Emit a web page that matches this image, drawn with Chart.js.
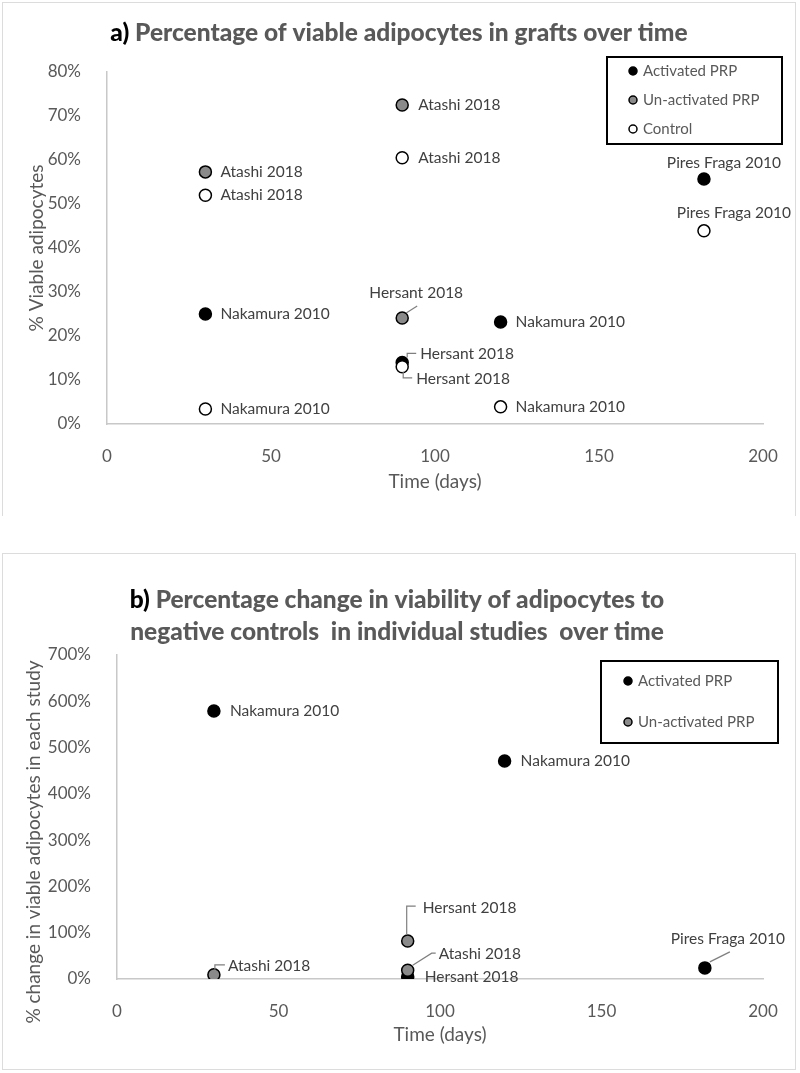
<!DOCTYPE html>
<html>
<head>
<meta charset="utf-8">
<script src="https://cdn.jsdelivr.net/npm/chart.js@4.4.0/dist/chart.umd.min.js"></script>
<style>
body { margin: 0; background: #fff; width: 800px; height: 1073px; position: relative; overflow: hidden; }
.panel { position: absolute; left: 2px; width: 792px; border: 1px solid #dcdcdc; background: #fff; }
#pa { top: 2px; height: 513px; border-bottom: none; }
#pb { top: 553px; height: 515px; }
canvas { display: block; }
</style>
</head>
<body>
<div class="panel" id="pa"><canvas id="chartA" width="792" height="513"></canvas></div>
<div class="panel" id="pb"><canvas id="chartB" width="792" height="515"></canvas></div>
<script>
// ---- data, panel a (% viable adipocytes) ----
const actDaysA = [30, 90, 120, 182];
const actPctA = [25, 14, 23.2, 55.7];
const actStudyA = ["Nakamura 2010", "Hersant 2018", "Nakamura 2010", "Pires Fraga 2010"];
const unactDaysA = [30, 90, 90];
const unactPctA = [57.3, 72.5, 24.1];
const unactStudyA = ["Atashi 2018", "Atashi 2018", "Hersant 2018"];
const ctrlDaysA = [30, 30, 90, 90, 120, 182];
const ctrlPctA = [52, 3.4, 60.5, 13, 3.9, 43.9];
const ctrlStudyA = ["Atashi 2018", "Nakamura 2010", "Atashi 2018", "Hersant 2018", "Nakamura 2010", "Pires Fraga 2010"];

// ---- data, panel b (% change vs negative control) ----
const actDaysB = [30, 90, 120, 182];
const actPctB = [579, 5, 471, 24];
const actStudyB = ["Nakamura 2010", "Hersant 2018", "Nakamura 2010", "Pires Fraga 2010"];
const unactDaysB = [30, 90, 90];
const unactPctB = [9, 82, 19];
const unactStudyB = ["Atashi 2018", "Hersant 2018", "Atashi 2018"];

// ---- axes ----
const xTicks = [0, 50, 100, 150, 200];
const yTicksA = [0, 10, 20, 30, 40, 50, 60, 70, 80];
const yTicksB = [0, 100, 200, 300, 400, 500, 600, 700];
const seriesNames = ["Activated PRP", "Un-activated PRP", "Control"];

const FONT = "Lato";
const TICK_COLOR = "#595959";
const LABEL_COLOR = "#404040";
const AXIS_COLOR = "#c8c8c8";
const FILLS = ["#000000", "#8a8a8a", "#ffffff"];

// label placement relative to the point (pixels); R = plain label to the right
const R = { dx: 15, dy: 0, align: "left" };
const R16 = { dx: 16, dy: 0, align: "left" };
const placeActA = [R, { dx: 18, dy: -8, align: "left", path: [[5, -5], [5, -9], [14, -9]] }, R, { dx: 20, dy: -16, align: "center" }];
const placeUnactA = [R, R16, { dx: 14, dy: -25, align: "center", path: [[4, -5], [15, -12]] }];
const placeCtrlA = [R, R, R16, { dx: 14, dy: 12, align: "left", path: [[1, 5], [1, 11], [10, 11]] }, R, { dx: 30, dy: -18, align: "center" }];
const placeActB = [R16, { dx: 17, dy: 0, align: "left" }, R16, { dx: 23, dy: -29, align: "center", path: [[5, -6], [25, -16]] }];
const placeUnactB = [{ dx: 14, dy: -9, align: "left", path: [[1, -5], [1, -10], [11, -10]] },
  { dx: 15, dy: -33, align: "left", path: [[-1, -6], [-1, -35], [8, -35]] },
  { dx: 31, dy: -16, align: "left", path: [[5, -5], [24, -17], [28, -17]] }];

function pts(xs, ys) { return xs.map((x, i) => ({ x, y: ys[i] })); }

function dataset(idx, xs, ys, names, place) {
  return {
    label: seriesNames[idx],
    data: pts(xs, ys),
    studies: names,
    place: place,
    order: 2 - idx,
    backgroundColor: FILLS[idx],
    borderColor: "#000",
    borderWidth: 1.5,
    pointRadius: 6,
    pointHoverRadius: 6
  };
}

// study names next to the markers, with small leader lines
const studyLabels = {
  id: "studyLabels",
  afterDatasetsDraw(chart) {
    const ctx = chart.ctx;
    ctx.save();
    ctx.font = "15.5px " + FONT;
    ctx.textBaseline = "middle";
    chart.data.datasets.forEach((ds, di) => {
      chart.getDatasetMeta(di).data.forEach((pt, i) => {
        const p = ds.place[i];
        if (p.path) {
          ctx.strokeStyle = "#7f7f7f";
          ctx.lineWidth = 1.2;
          ctx.beginPath();
          p.path.forEach(([dx, dy], k) => {
            if (k === 0) ctx.moveTo(pt.x + dx, pt.y + dy); else ctx.lineTo(pt.x + dx, pt.y + dy);
          });
          ctx.stroke();
        }
        ctx.fillStyle = LABEL_COLOR;
        ctx.textAlign = p.align;
        ctx.fillText(ds.studies[i], pt.x + p.dx, pt.y + p.dy);
      });
    });
    ctx.restore();
  }
};

// boxed legend, titles and axis titles
const decor = {
  id: "decor",
  afterDraw(chart, args, o) {
    const ctx = chart.ctx;
    ctx.save();
    // legend box
    const L = o.legend;
    ctx.strokeStyle = "#000";
    ctx.lineWidth = 2;
    ctx.strokeRect(L.x, L.y, L.w, L.h);
    ctx.font = "15px " + FONT;
    ctx.textBaseline = "middle";
    ctx.textAlign = "left";
    chart.data.datasets.forEach((ds, i) => {
      const y = L.rows[i];
      ctx.beginPath();
      ctx.arc(L.mx, y, 4, 0, Math.PI * 2);
      ctx.fillStyle = ds.backgroundColor;
      ctx.fill();
      ctx.lineWidth = 1.5;
      ctx.strokeStyle = "#000";
      ctx.stroke();
      ctx.fillStyle = TICK_COLOR;
      ctx.fillText(ds.label, L.tx, y);
    });
    // main title: bold prefix in black, rest grey
    ctx.font = "900 24.5px " + FONT;
    o.title.lines.forEach((line, k) => {
      const pre = k === 0 ? o.title.prefix : "";
      const w1 = ctx.measureText(pre).width;
      const w2 = ctx.measureText(line).width;
      let x = o.title.cx - (w1 + w2) / 2;
      const y = o.title.ys[k];
      ctx.textAlign = "left";
      ctx.fillStyle = "#000";
      ctx.fillText(pre, x, y);
      ctx.fillStyle = "#595959";
      ctx.fillText(line, x + w1, y);
    });
    // axis titles
    ctx.font = "19px " + FONT;
    ctx.fillStyle = TICK_COLOR;
    ctx.textAlign = "center";
    ctx.fillText(o.xTitle.text, o.xTitle.x, o.xTitle.y);
    ctx.translate(o.yTitle.x, o.yTitle.y);
    ctx.rotate(-Math.PI / 2);
    ctx.fillText(o.yTitle.text, 0, 0);
    ctx.restore();
  }
};

function makeChart(canvasId, datasets, yTicks, layout, decorOpts) {
  const tickFont = { family: FONT, size: 17 };
  return new Chart(document.getElementById(canvasId), {
    type: "scatter",
    data: { datasets },
    options: {
      responsive: false,
      animation: false,
      events: [],
      layout: { padding: { left: 0, top: layout.top, right: 32, bottom: 0 } },
      plugins: { legend: { display: false }, tooltip: { enabled: false }, decor: decorOpts },
      scales: {
        x: {
          type: "linear",
          min: xTicks[0], max: xTicks[xTicks.length - 1],
          afterBuildTicks: (s) => { s.ticks = xTicks.map(v => ({ value: v })); },
          ticks: { font: tickFont, color: TICK_COLOR, padding: 14 },
          grid: { display: false },
          border: { color: AXIS_COLOR, width: 1.5 },
          afterFit: (s) => { s.height = layout.xh; }
        },
        y: {
          min: yTicks[0], max: yTicks[yTicks.length - 1],
          afterBuildTicks: (s) => { s.ticks = yTicks.map(v => ({ value: v })); },
          ticks: { font: tickFont, color: TICK_COLOR, padding: 18, callback: (v) => v + "%" },
          grid: { display: false },
          border: { color: AXIS_COLOR, width: 1.5 },
          afterFit: (s) => { s.width = layout.yw; }
        }
      }
    },
    plugins: [studyLabels, decor]
  });
}

makeChart("chartA", [
  dataset(0, actDaysA, actPctA, actStudyA, placeActA),
  dataset(1, unactDaysA, unactPctA, unactStudyA, placeUnactA),
  dataset(2, ctrlDaysA, ctrlPctA, ctrlStudyA, placeCtrlA)
], yTicksA, { top: 69, xh: 92, yw: 104 }, {
  legend: { x: 604, y: 54, w: 175, h: 87, mx: 630, tx: 640, rows: [68, 97, 126] },
  title: { prefix: "a) ", lines: ["Percentage of viable adipocytes in grafts over time"], cx: 396, ys: [30] },
  xTitle: { text: "Time (days)", x: 432, y: 479 },
  yTitle: { text: "% Viable adipocytes", x: 34, y: 245 }
});

makeChart("chartB", [
  dataset(0, actDaysB, actPctB, actStudyB, placeActB),
  dataset(1, unactDaysB, unactPctB, unactStudyB, placeUnactB)
], yTicksB, { top: 101, xh: 90, yw: 114 }, {
  legend: { x: 598, y: 107, w: 177, h: 82, mx: 625, tx: 635, rows: [127, 168] },
  title: { prefix: "b) ", lines: ["Percentage change in viability of adipocytes to", "negative controls  in individual studies  over time"], cx: 394, ys: [46, 78] },
  xTitle: { text: "Time (days)", x: 437, y: 481 },
  yTitle: { text: "% change in viable adipocytes in each study", x: 31, y: 288 }
});
</script>
</body>
</html>
